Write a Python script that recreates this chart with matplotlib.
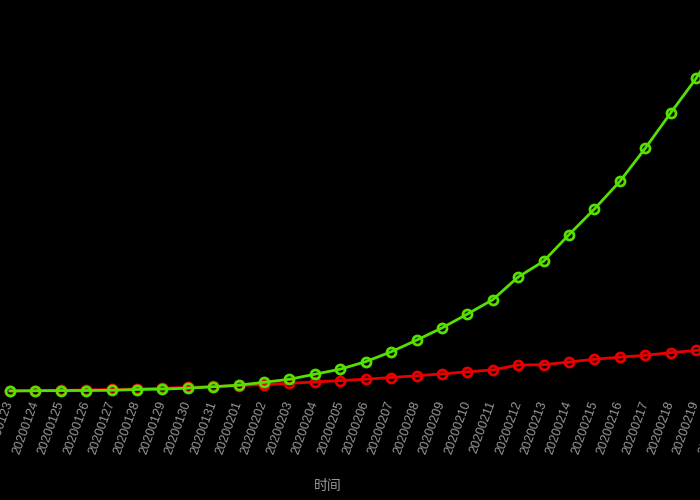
import matplotlib
matplotlib.use('Agg')
import matplotlib.pyplot as plt

plt.rcParams['font.family'] = ['Noto Sans CJK SC', 'DejaVu Sans']

# 日期
dates = ['20200123', '20200124', '20200125', '20200126', '20200127', '20200128',
         '20200129', '20200130', '20200131', '20200201', '20200202', '20200203',
         '20200204', '20200205', '20200206', '20200207', '20200208', '20200209',
         '20200210', '20200211', '20200212', '20200213', '20200214', '20200215',
         '20200216', '20200217', '20200218', '20200219', '20200220']
# 治愈(绿) / 死亡(红)
cured = [34, 38, 49, 51, 60, 103, 124, 171, 243, 328, 475, 632, 892, 1153, 1540,
         2050, 2649, 3281, 3996, 4740, 5911, 6723, 8096, 9419, 10844, 12552,
         14376, 16155, 18264]
dead = [25, 41, 56, 80, 106, 132, 170, 213, 259, 304, 361, 425, 490, 563, 636,
        722, 811, 908, 1016, 1113, 1368, 1380, 1523, 1665, 1770, 1868, 2004,
        2118, 2236]

fig = plt.figure(figsize=(7, 5), dpi=100, facecolor='black')
ax = fig.add_axes([-0.0039, 0.217, 1.0527, 0.775])
ax.set_facecolor('black')

x = list(range(len(dates)))
ax.plot(x, dead, color='#e80000', lw=2, marker='o', ms=6.5, mfc='none', mew=2, clip_on=False)
ax.plot(x, cured, color='#55e000', lw=2, marker='o', ms=6.5, mfc='none', mew=2, clip_on=False)

ax.set_xlim(-0.5, len(dates) - 0.5)
ax.set_ylim(0, 20000)
ax.set_xticks(x)
ax.set_xticklabels(dates, rotation=70, ha='right', va='center', rotation_mode='anchor',
                   color='#9a9a9a', fontsize=9, family='Liberation Sans')
ax.tick_params(axis='x', length=0, pad=7)
ax.set_yticks([])
for s in ax.spines.values():
    s.set_visible(False)

fig.text(328 / 700, 1 - 486 / 500, '时间', color='#999999', fontsize=10, ha='center', va='center')

fig.savefig('out.png', dpi=100, facecolor='black')
